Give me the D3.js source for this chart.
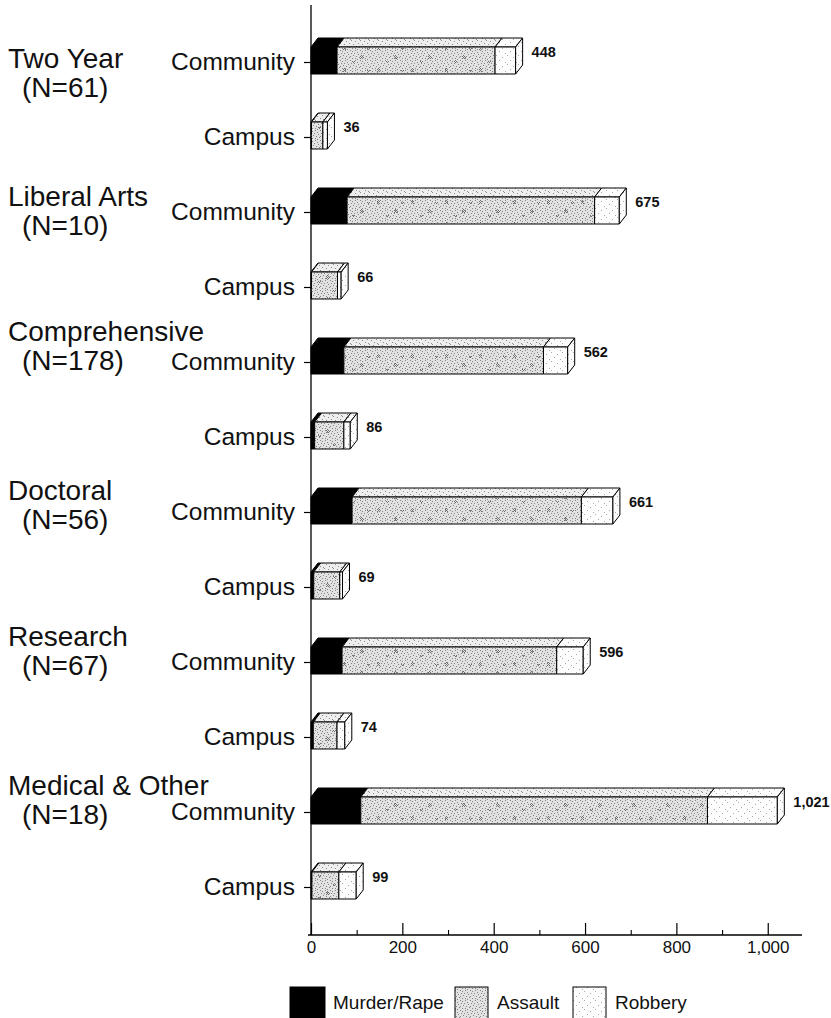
<!DOCTYPE html>
<html>
<head>
<meta charset="utf-8">
<script src="https://cdn.jsdelivr.net/npm/d3@7"></script>
<style>
  html, body { margin: 0; padding: 0; background: #fff; }
  svg { display: block; font-family: "Liberation Sans", Arial, Helvetica, sans-serif; }
</style>
</head>
<body>
<svg id="chart" width="831" height="1018"></svg>
<script>
// Institution types and their number of schools
const categories = ["Two Year", "Liberal Arts", "Comprehensive", "Doctoral", "Research", "Medical & Other"];
const groupN = [61, 10, 178, 56, 67, 18];
const locations = ["Community", "Campus"];

// Crime rates per row (Community, Campus for each institution type, in order)
const murderRape = [57, 1, 79, 1, 72, 8, 90, 6, 68, 5, 109, 2];
const assault    = [346, 25, 542, 57, 437, 64, 502, 57, 470, 52, 759, 59];
const robbery    = [45, 10, 54, 8, 53, 14, 69, 6, 58, 17, 153, 38];

const seriesNames = ["Murder/Rape", "Assault", "Robbery"];
const majorTicks = [0, 200, 400, 600, 800, 1000];
const minorTicks = [100, 300, 500, 700, 900];

// Rows built from the arrays above
const rows = [];
categories.forEach((c, i) => {
  locations.forEach((loc, j) => {
    const k = i * 2 + j;
    rows.push({ key: c + "|" + loc, group: c, loc: loc,
                values: [murderRape[k], assault[k], robbery[k]] });
  });
});

const svg = d3.select("#chart");
const defs = svg.append("defs");

// Stipple textures
function dotPattern(id, w, h, bg, dots, color, r) {
  const p = defs.append("pattern").attr("id", id)
    .attr("patternUnits", "userSpaceOnUse").attr("width", w).attr("height", h);
  p.append("rect").attr("width", w).attr("height", h).attr("fill", bg);
  dots.forEach(([x, y]) => p.append("rect").attr("x", x).attr("y", y)
    .attr("width", r).attr("height", r).attr("fill", color));
}
dotPattern("assaultFront", 10, 10, "#e2e2e2",
  [[0,0],[2,1],[5,0],[7,2],[1,3],[4,3],[8,4],[3,5],[6,6],[0,6],[9,7],[2,8],[5,8],[7,9]], "#858585", 1);
dotPattern("assaultBlot", 34, 22, "none",
  [[3,3],[4,4],[5,3],[3,5],[5,5],[4,2],[20,12],[21,13],[22,12],[20,14],[22,14],[21,11],[23,13],[12,17],[13,18],[14,17],[27,4],[28,5],[29,4]], "#707070", 1);
dotPattern("assaultTop", 9, 8, "#eeeeee",
  [[0,0],[4,1],[7,3],[2,4],[5,6],[8,7]], "#8c8c8c", 1);
dotPattern("robberyFill", 11, 9, "#fdfdfd",
  [[1,1],[7,3],[4,6],[10,8]], "#a8a8a8", 1);

const margin = { top: 5, bottom: 935 };
const x = d3.scaleLinear().domain([0, 1075]).range([311, 802]);
const y = d3.scalePoint().domain(rows.map(d => d.key)).range([62, 887]);

const faceH = 27, dx = 7, dy = 9;
const fronts = ["#000", "url(#assaultFront)", "url(#robberyFill)"];
const tops = ["#000", "url(#assaultTop)", "url(#robberyFill)"];

// Axes
svg.append("line").attr("x1", 311).attr("x2", 311)
  .attr("y1", margin.top).attr("y2", margin.bottom)
  .attr("stroke", "#000").attr("stroke-width", 1.3);

const yAxis = svg.append("g").attr("transform", "translate(311,0)")
  .call(d3.axisLeft(y).tickSize(7).tickPadding(9).tickFormat(k => k.split("|")[1]));
yAxis.select(".domain").remove();
yAxis.selectAll(".tick line").attr("x2", -7).attr("x1", 3).attr("stroke-width", 1.2);
yAxis.selectAll(".tick text").attr("font-size", 24.5).attr("fill", "#111")
  .style("font-family", "'Liberation Sans', Arial, sans-serif");

const xAxis = svg.append("g").attr("transform", `translate(0,${margin.bottom})`)
  .call(d3.axisBottom(x).tickValues(majorTicks).tickSizeInner(-12).tickSizeOuter(0)
    .tickPadding(6).tickFormat(d3.format(",")));
xAxis.select(".domain").attr("d", `M308,0H802`).attr("stroke-width", 1.3);
xAxis.selectAll(".tick line").attr("stroke-width", 1.2);
xAxis.selectAll(".tick text").attr("font-size", 17).attr("fill", "#111")
  .style("font-family", "'Liberation Sans', Arial, sans-serif");

svg.append("g").attr("transform", `translate(0,${margin.bottom})`)
  .call(d3.axisBottom(x).tickValues(minorTicks).tickSizeInner(-5).tickSizeOuter(0).tickFormat(""))
  .call(g => g.select(".domain").remove())
  .selectAll(".tick line").attr("stroke-width", 1.1);

// 3-D stacked bars
const bars = svg.append("g").attr("stroke", "#000").attr("stroke-width", 1).attr("stroke-linejoin", "round");
rows.forEach(r => {
  const yTop = y(r.key) - 1.5 - faceH / 2;
  let cum = 0;
  const segs = r.values.map((v, i) => { const s = { i, a: cum, b: cum + v }; cum += v; return s; });
  const g = bars.append("g");
  segs.forEach(s => {
    if (s.b - s.a <= 0) return;
    const x0 = x(s.a), x1 = x(s.b);
    g.append("path")
      .attr("d", `M${x0},${yTop}L${x0 + dx},${yTop - dy}L${x1 + dx},${yTop - dy}L${x1},${yTop}Z`)
      .attr("fill", tops[s.i]);
    g.append("rect").attr("x", x0).attr("y", yTop).attr("width", x1 - x0).attr("height", faceH)
      .attr("fill", fronts[s.i]);
    if (s.i === 1) {
      g.append("rect").attr("x", x0).attr("y", yTop).attr("width", x1 - x0).attr("height", faceH)
        .attr("fill", "url(#assaultBlot)").attr("stroke", "none");
    }
  });
  const xe = x(cum);
  g.append("path")
    .attr("d", `M${xe},${yTop}L${xe + dx},${yTop - dy}L${xe + dx},${yTop + faceH - dy}L${xe},${yTop + faceH}Z`)
    .attr("fill", "url(#robberyFill)");
  svg.append("text").attr("x", xe + dx + 9).attr("y", y(r.key) - 5)
    .attr("font-size", 14.5).attr("font-weight", "bold").attr("fill", "#111")
    .text(d3.format(",")(cum));
});

// Institution group labels (baseline shift from the Community row)
const nameShift = [6, -6, -21, -12, -16, -17];
categories.forEach((c, i) => {
  const yc = y(c + "|Community") + nameShift[i];
  svg.append("text").attr("x", 8).attr("y", yc).attr("font-size", 28).attr("fill", "#111").text(c);
  svg.append("text").attr("x", 22).attr("y", yc + 29).attr("font-size", 28).attr("fill", "#111")
    .text(`(N=${groupN[i]})`);
});

// Legend
const legendBoxes = [290, 455, 573];
const legendFill = ["#000", "url(#assaultFront)", "url(#robberyFill)"];
const legend = svg.append("g");
seriesNames.forEach((name, i) => {
  const lx = legendBoxes[i];
  legend.append("rect").attr("x", lx).attr("y", 987).attr("width", i === 0 ? 35 : 33).attr("height", 34)
    .attr("fill", legendFill[i]).attr("stroke", "#000").attr("stroke-width", 1);
  legend.append("text").attr("x", lx + (i === 0 ? 43 : 42)).attr("y", 1009)
    .attr("font-size", 19).attr("fill", "#111").text(name);
});
</script>
</body>
</html>
